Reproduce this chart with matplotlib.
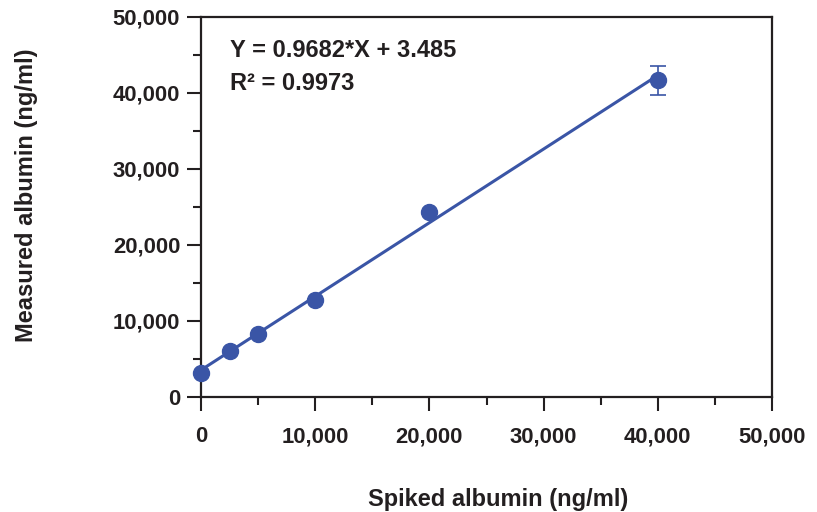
import matplotlib.pyplot as plt
import numpy as np
from matplotlib.ticker import FuncFormatter, MultipleLocator

# spiked vs measured albumin (ng/ml)
spiked = [0, 2500, 5000, 10000, 20000, 40000]
measured = [3100, 6100, 8300, 12800, 24400, 41700]
measured_err = [0, 0, 0, 0, 0, 1900]

fit_text = "Y = 0.9682*X + 3.485"
r2_text = "R² = 0.9973"

blue = "#3a55a6"
ink = "#231f20"

plt.rcParams["font.family"] = ["Liberation Sans", "DejaVu Sans"]
plt.rcParams["font.weight"] = "bold"

fig = plt.figure(figsize=(8.17, 5.12), dpi=100)
ax = fig.add_axes([201 / 817, 1 - 397 / 512, 571 / 817, 380 / 512])

# linear fit through the points
slope, intercept = np.polyfit(spiked, measured, 1)
xs = np.array([spiked[0], spiked[-1]])
ax.plot(xs, slope * xs + intercept, color=blue, lw=2.2, zorder=2)

ax.errorbar(spiked, measured, yerr=measured_err, fmt="o", color=blue,
            ms=11.5, elinewidth=1.2, capsize=6, capthick=1.2, zorder=3,
            clip_on=False)

ax.set_xlim(0, 50000)
ax.set_ylim(0, 50000)
ax.xaxis.set_major_locator(MultipleLocator(10000))
ax.xaxis.set_minor_locator(MultipleLocator(5000))
ax.yaxis.set_major_locator(MultipleLocator(10000))
ax.yaxis.set_minor_locator(MultipleLocator(5000))
fmt = FuncFormatter(lambda v, p: f"{int(v):,}")
ax.xaxis.set_major_formatter(fmt)
ax.yaxis.set_major_formatter(fmt)

for s in ax.spines.values():
    s.set_linewidth(1.6)
    s.set_color(ink)
ax.tick_params(which="major", direction="out", length=10, width=1.5,
               labelsize=15.8, color=ink, labelcolor=ink)
ax.tick_params(which="minor", direction="out", length=5.5, width=1.5,
               color=ink)
ax.tick_params(axis="x", which="major", pad=11)
ax.tick_params(axis="y", which="major", pad=5)
for lab in ax.get_xticklabels() + ax.get_yticklabels():
    lab.set_fontweight("bold")

ax.set_xlabel("Spiked albumin (ng/ml)", fontsize=17, fontweight="bold",
              color=ink, va="center")
ax.set_ylabel("Measured albumin (ng/ml)", fontsize=17, fontweight="bold",
              color=ink, va="center")
ax.xaxis.set_label_coords(0.52, -0.27)
ax.yaxis.set_label_coords(-0.306, 0.532)

ax.text(0.051, 0.913, fit_text, transform=ax.transAxes, fontsize=17,
        fontweight="bold", va="center", color=ink)
ax.text(0.051, 0.826, r2_text, transform=ax.transAxes, fontsize=17,
        fontweight="bold", va="center", color=ink)

fig.savefig("out.png", dpi=100)
